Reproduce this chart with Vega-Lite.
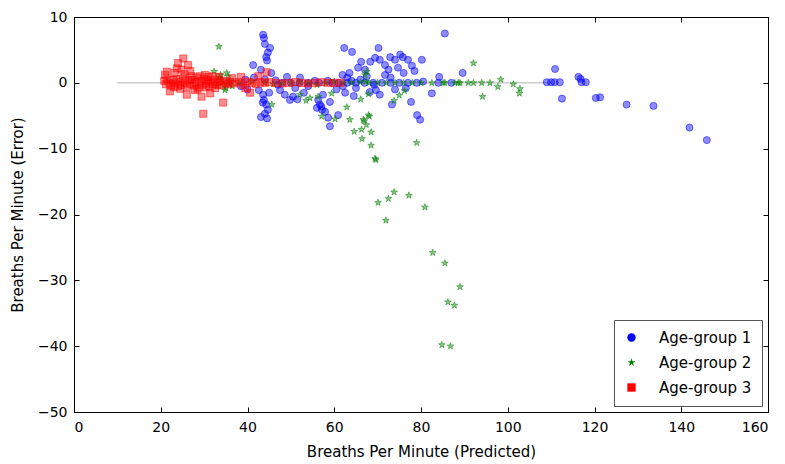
{
"$schema":"https://vega.github.io/schema/vega-lite/v6.json",
"width":694,"height":395,
"autosize":{"type":"none"},
"padding":{"left":74,"top":17,"right":17,"bottom":52},
"config":{
 "view":{"stroke":"black","strokeWidth":1},
 "font":"DejaVu Sans",
 "axis":{"grid":false,"domainColor":"black","tickColor":"black","labelColor":"black","titleColor":"black","labelFont":"DejaVu Sans","titleFont":"DejaVu Sans","labelFontSize":14,"titleFontSize":15,"titleFontWeight":"normal","tickSize":-5},
 "legend":{"labelFont":"DejaVu Sans","labelFontSize":15,"labelColor":"black"}
},
"layer":[
 {"data":{"values":[{"x":10,"x2":110,"y":0}]},
  "mark":{"type":"rule","color":"#cccccc","strokeWidth":1.5},
  "encoding":{
   "x":{"field":"x","type":"quantitative","scale":{"domain":[0,160]},"axis":{"title":null,"labels":false,"domain":false,"values":[0,20,40,60,80,100,120,140,160],"orient":"top"}},
   "x2":{"field":"x2"},
   "y":{"field":"y","type":"quantitative","scale":{"domain":[-50,10]},"axis":{"title":null,"labels":false,"domain":false,"values":[-50,-40,-30,-20,-10,0,10],"orient":"right"}}
  }},
 {"data":{"values":[
{"group":"Age-group 1","pred":43.6,"err":7.3},{"group":"Age-group 1","pred":43.8,"err":6.8},{"group":"Age-group 1","pred":44.0,"err":5.9},{"group":"Age-group 1","pred":45.2,"err":5.3},{"group":"Age-group 1","pred":44.7,"err":4.6},{"group":"Age-group 1","pred":44.3,"err":3.9},{"group":"Age-group 1","pred":44.5,"err":3.4},{"group":"Age-group 1","pred":41.3,"err":2.7},{"group":"Age-group 1","pred":43.1,"err":2.0},{"group":"Age-group 1","pred":45.5,"err":1.5},{"group":"Age-group 1","pred":44.0,"err":0.5},{"group":"Age-group 1","pred":42.6,"err":-1.1},{"group":"Age-group 1","pred":43.6,"err":-1.8},{"group":"Age-group 1","pred":43.8,"err":-2.6},{"group":"Age-group 1","pred":44.3,"err":-3.3},{"group":"Age-group 1","pred":44.7,"err":-4.1},{"group":"Age-group 1","pred":43.1,"err":-5.2},{"group":"Age-group 1","pred":44.5,"err":-5.4},{"group":"Age-group 1","pred":44.0,"err":-4.7},{"group":"Age-group 1","pred":43.5,"err":-3.0},{"group":"Age-group 1","pred":45.0,"err":-1.5},
{"group":"Age-group 1","pred":38.5,"err":-0.5},{"group":"Age-group 1","pred":40.0,"err":-1.0},{"group":"Age-group 1","pred":41.5,"err":0.8},{"group":"Age-group 1","pred":39.5,"err":0.5},
{"group":"Age-group 1","pred":47.5,"err":-1.1},{"group":"Age-group 1","pred":48.6,"err":-1.8},{"group":"Age-group 1","pred":49.8,"err":-2.6},{"group":"Age-group 1","pred":50.5,"err":-2.1},{"group":"Age-group 1","pred":49.1,"err":0.9},{"group":"Age-group 1","pred":52.1,"err":0.8},{"group":"Age-group 1","pred":51.5,"err":-2.5},{"group":"Age-group 1","pred":53.0,"err":-1.5},{"group":"Age-group 1","pred":54.0,"err":-0.5},{"group":"Age-group 1","pred":55.5,"err":0.3},{"group":"Age-group 1","pred":46.5,"err":0.4},{"group":"Age-group 1","pred":48.0,"err":0.0},{"group":"Age-group 1","pred":50.0,"err":0.0},{"group":"Age-group 1","pred":52.0,"err":0.0},{"group":"Age-group 1","pred":54.0,"err":0.0},{"group":"Age-group 1","pred":47.0,"err":-0.3},{"group":"Age-group 1","pred":51.0,"err":-0.8},
{"group":"Age-group 1","pred":56.7,"err":-3.3},{"group":"Age-group 1","pred":57.2,"err":-4.1},{"group":"Age-group 1","pred":57.9,"err":-4.4},{"group":"Age-group 1","pred":58.6,"err":-5.3},{"group":"Age-group 1","pred":59.0,"err":-6.6},{"group":"Age-group 1","pred":56.3,"err":-2.6},{"group":"Age-group 1","pred":59.0,"err":-2.9},{"group":"Age-group 1","pred":57.4,"err":-1.8},{"group":"Age-group 1","pred":56.0,"err":-3.8},{"group":"Age-group 1","pred":57.0,"err":-3.6},{"group":"Age-group 1","pred":58.5,"err":0.3},{"group":"Age-group 1","pred":56.5,"err":0.0},{"group":"Age-group 1","pred":59.5,"err":0.0},
{"group":"Age-group 1","pred":62.3,"err":5.3},{"group":"Age-group 1","pred":64.1,"err":4.7},{"group":"Age-group 1","pred":61.9,"err":1.2},{"group":"Age-group 1","pred":65.5,"err":2.3},{"group":"Age-group 1","pred":66.2,"err":3.2},{"group":"Age-group 1","pred":67.1,"err":2.0},{"group":"Age-group 1","pred":60.9,"err":-4.9},{"group":"Age-group 1","pred":60.5,"err":-1.0},{"group":"Age-group 1","pred":62.0,"err":-0.5},{"group":"Age-group 1","pred":63.0,"err":0.8},{"group":"Age-group 1","pred":64.0,"err":0.3},{"group":"Age-group 1","pred":65.0,"err":-0.8},{"group":"Age-group 1","pred":66.0,"err":0.5},{"group":"Age-group 1","pred":67.5,"err":1.0},{"group":"Age-group 1","pred":68.3,"err":3.2},{"group":"Age-group 1","pred":69.2,"err":-0.3},{"group":"Age-group 1","pred":69.6,"err":-1.1},{"group":"Age-group 1","pred":68.2,"err":-1.4},{"group":"Age-group 1","pred":63.5,"err":1.5},{"group":"Age-group 1","pred":61.0,"err":0.0},{"group":"Age-group 1","pred":63.0,"err":0.0},{"group":"Age-group 1","pred":65.0,"err":0.0},{"group":"Age-group 1","pred":67.0,"err":0.0},{"group":"Age-group 1","pred":69.0,"err":0.0},{"group":"Age-group 1","pred":62.5,"err":-1.5},{"group":"Age-group 1","pred":64.5,"err":-2.0},
{"group":"Age-group 1","pred":70.2,"err":5.3},{"group":"Age-group 1","pred":69.4,"err":3.8},{"group":"Age-group 1","pred":70.5,"err":3.5},{"group":"Age-group 1","pred":71.7,"err":2.7},{"group":"Age-group 1","pred":72.9,"err":3.9},{"group":"Age-group 1","pred":74.0,"err":3.5},{"group":"Age-group 1","pred":75.2,"err":4.3},{"group":"Age-group 1","pred":75.8,"err":3.9},{"group":"Age-group 1","pred":77.0,"err":3.5},{"group":"Age-group 1","pred":77.9,"err":2.6},{"group":"Age-group 1","pred":74.7,"err":2.3},{"group":"Age-group 1","pred":71.7,"err":1.2},{"group":"Age-group 1","pred":70.5,"err":-1.8},{"group":"Age-group 1","pred":73.3,"err":-3.3},{"group":"Age-group 1","pred":77.7,"err":-2.9},{"group":"Age-group 1","pred":79.1,"err":-4.9},{"group":"Age-group 1","pred":79.8,"err":-5.6},{"group":"Age-group 1","pred":80.2,"err":3.5},{"group":"Age-group 1","pred":80.5,"err":0.2},{"group":"Age-group 1","pred":72.5,"err":2.0},{"group":"Age-group 1","pred":76.0,"err":1.5},{"group":"Age-group 1","pred":78.5,"err":1.8},{"group":"Age-group 1","pred":73.0,"err":0.8},{"group":"Age-group 1","pred":71.0,"err":0.0},{"group":"Age-group 1","pred":73.0,"err":0.0},{"group":"Age-group 1","pred":75.0,"err":0.0},{"group":"Age-group 1","pred":77.0,"err":0.0},{"group":"Age-group 1","pred":79.0,"err":0.0},{"group":"Age-group 1","pred":76.5,"err":-0.8},{"group":"Age-group 1","pred":74.0,"err":-1.0},
{"group":"Age-group 1","pred":84.2,"err":0.9},{"group":"Age-group 1","pred":82.5,"err":-1.6},{"group":"Age-group 1","pred":85.5,"err":7.5},{"group":"Age-group 1","pred":89.6,"err":1.5},{"group":"Age-group 1","pred":84.0,"err":0.0},{"group":"Age-group 1","pred":87.0,"err":0.0},
{"group":"Age-group 1","pred":109.0,"err":0.1},{"group":"Age-group 1","pred":110.0,"err":0.1},{"group":"Age-group 1","pred":110.8,"err":0.1},{"group":"Age-group 1","pred":112.0,"err":0.1},{"group":"Age-group 1","pred":110.9,"err":2.1},{"group":"Age-group 1","pred":112.5,"err":-2.4},{"group":"Age-group 1","pred":116.3,"err":0.9},{"group":"Age-group 1","pred":116.8,"err":0.6},{"group":"Age-group 1","pred":117.0,"err":0.1},{"group":"Age-group 1","pred":118.0,"err":0.1},{"group":"Age-group 1","pred":120.3,"err":-2.3},{"group":"Age-group 1","pred":121.3,"err":-2.2},{"group":"Age-group 1","pred":127.4,"err":-3.3},{"group":"Age-group 1","pred":133.6,"err":-3.5},{"group":"Age-group 1","pred":141.9,"err":-6.8},{"group":"Age-group 1","pred":145.9,"err":-8.7},
{"group":"Age-group 2","pred":33.4,"err":5.5},{"group":"Age-group 2","pred":32.3,"err":1.7},{"group":"Age-group 2","pred":33.5,"err":0.8},{"group":"Age-group 2","pred":34.0,"err":0.5},{"group":"Age-group 2","pred":34.5,"err":-0.3},{"group":"Age-group 2","pred":35.0,"err":-0.8},{"group":"Age-group 2","pred":35.5,"err":1.0},{"group":"Age-group 2","pred":36.0,"err":0.3},{"group":"Age-group 2","pred":33.0,"err":-0.5},{"group":"Age-group 2","pred":34.8,"err":-1.1},{"group":"Age-group 2","pred":36.5,"err":-0.5},{"group":"Age-group 2","pred":35.2,"err":1.5},{"group":"Age-group 2","pred":33.8,"err":1.2},{"group":"Age-group 2","pred":35.8,"err":-0.2},
{"group":"Age-group 2","pred":38,"err":0},{"group":"Age-group 2","pred":41,"err":0.2},{"group":"Age-group 2","pred":44,"err":0},{"group":"Age-group 2","pred":46,"err":-0.2},{"group":"Age-group 2","pred":48,"err":0},{"group":"Age-group 2","pred":50,"err":0},{"group":"Age-group 2","pred":52,"err":0.1},{"group":"Age-group 2","pred":54,"err":0},{"group":"Age-group 2","pred":56,"err":-0.3},{"group":"Age-group 2","pred":58,"err":0},{"group":"Age-group 2","pred":60,"err":0.2},
{"group":"Age-group 2","pred":45.6,"err":-3.3},{"group":"Age-group 2","pred":54.4,"err":-2.3},{"group":"Age-group 2","pred":56.3,"err":-2.1},{"group":"Age-group 2","pred":59.4,"err":-1.6},{"group":"Age-group 2","pred":52.1,"err":-1.8},{"group":"Age-group 2","pred":57.1,"err":-5.1},{"group":"Age-group 2","pred":60.2,"err":-5.5},{"group":"Age-group 2","pred":53.5,"err":-2.7},
{"group":"Age-group 2","pred":62.9,"err":-3.7},{"group":"Age-group 2","pred":63.6,"err":-5.6},{"group":"Age-group 2","pred":66.1,"err":-2.5},{"group":"Age-group 2","pred":67.9,"err":-1.7},{"group":"Age-group 2","pred":66.7,"err":-5.6},{"group":"Age-group 2","pred":68.1,"err":-5.1},{"group":"Age-group 2","pred":67.5,"err":1.7},{"group":"Age-group 2","pred":67.1,"err":1.2},{"group":"Age-group 2","pred":67.3,"err":0.2},
{"group":"Age-group 2","pred":64.6,"err":-7.4},{"group":"Age-group 2","pred":66.3,"err":-7.1},{"group":"Age-group 2","pred":66.4,"err":-8.5},{"group":"Age-group 2","pred":66.9,"err":-5.8},{"group":"Age-group 2","pred":67.4,"err":-6.4},{"group":"Age-group 2","pred":67.9,"err":-4.9},{"group":"Age-group 2","pred":68.5,"err":-7.5},{"group":"Age-group 2","pred":68.5,"err":-9.5},{"group":"Age-group 2","pred":69.4,"err":-11.5},{"group":"Age-group 2","pred":69.6,"err":-11.7},{"group":"Age-group 2","pred":79.0,"err":-9.1},{"group":"Age-group 2","pred":73.8,"err":-2.7},{"group":"Age-group 2","pred":75.0,"err":-1.9},{"group":"Age-group 2","pred":76.2,"err":-1.2},
{"group":"Age-group 2","pred":62,"err":0},{"group":"Age-group 2","pred":64,"err":0},{"group":"Age-group 2","pred":66,"err":0.1},{"group":"Age-group 2","pred":68,"err":0},{"group":"Age-group 2","pred":70,"err":0},{"group":"Age-group 2","pred":72,"err":0},{"group":"Age-group 2","pred":74,"err":0},{"group":"Age-group 2","pred":76,"err":0},{"group":"Age-group 2","pred":78,"err":0},{"group":"Age-group 2","pred":80,"err":0},
{"group":"Age-group 2","pred":82.5,"err":0},{"group":"Age-group 2","pred":85.1,"err":0},{"group":"Age-group 2","pred":85.5,"err":0},{"group":"Age-group 2","pred":87.8,"err":0},{"group":"Age-group 2","pred":88.6,"err":0},{"group":"Age-group 2","pred":89.0,"err":0},{"group":"Age-group 2","pred":90.9,"err":0},{"group":"Age-group 2","pred":92.1,"err":0},{"group":"Age-group 2","pred":94.0,"err":0},{"group":"Age-group 2","pred":95.9,"err":0},
{"group":"Age-group 2","pred":92.1,"err":3.0},{"group":"Age-group 2","pred":94.2,"err":-2.1},{"group":"Age-group 2","pred":97.7,"err":-0.6},{"group":"Age-group 2","pred":98.4,"err":0.5},{"group":"Age-group 2","pred":101.3,"err":-0.2},{"group":"Age-group 2","pred":102.8,"err":-0.9},{"group":"Age-group 2","pred":102.7,"err":-1.6},
{"group":"Age-group 2","pred":73.8,"err":-16.6},{"group":"Age-group 2","pred":72.5,"err":-17.6},{"group":"Age-group 2","pred":70.1,"err":-18.2},{"group":"Age-group 2","pred":77.2,"err":-17.1},{"group":"Age-group 2","pred":80.9,"err":-18.9},{"group":"Age-group 2","pred":71.9,"err":-20.9},{"group":"Age-group 2","pred":82.7,"err":-25.8},{"group":"Age-group 2","pred":85.5,"err":-27.4},{"group":"Age-group 2","pred":89.0,"err":-31.0},{"group":"Age-group 2","pred":86.2,"err":-33.3},{"group":"Age-group 2","pred":87.7,"err":-33.8},{"group":"Age-group 2","pred":84.8,"err":-39.8},{"group":"Age-group 2","pred":86.8,"err":-40.0},
{"group":"Age-group 3","pred":20.8,"err":0.3},{"group":"Age-group 3","pred":21.2,"err":-0.2},{"group":"Age-group 3","pred":21.5,"err":0.5},{"group":"Age-group 3","pred":22.0,"err":0.0},{"group":"Age-group 3","pred":22.3,"err":-0.4},{"group":"Age-group 3","pred":22.8,"err":0.4},{"group":"Age-group 3","pred":23.2,"err":-0.1},{"group":"Age-group 3","pred":23.6,"err":0.6},{"group":"Age-group 3","pred":24.0,"err":-0.5},{"group":"Age-group 3","pred":24.4,"err":0.2},{"group":"Age-group 3","pred":24.8,"err":-0.3},{"group":"Age-group 3","pred":25.2,"err":0.7},{"group":"Age-group 3","pred":25.6,"err":0.0},{"group":"Age-group 3","pred":26.0,"err":-0.6},{"group":"Age-group 3","pred":26.4,"err":0.4},{"group":"Age-group 3","pred":26.8,"err":-0.2},{"group":"Age-group 3","pred":27.2,"err":0.5},{"group":"Age-group 3","pred":27.6,"err":-0.4},{"group":"Age-group 3","pred":28.0,"err":0.1},{"group":"Age-group 3","pred":28.4,"err":0.8},{"group":"Age-group 3","pred":28.8,"err":-0.7},{"group":"Age-group 3","pred":29.2,"err":0.3},{"group":"Age-group 3","pred":29.6,"err":-0.3},{"group":"Age-group 3","pred":30.0,"err":0.6},{"group":"Age-group 3","pred":30.4,"err":-0.1},{"group":"Age-group 3","pred":30.8,"err":0.4},{"group":"Age-group 3","pred":31.2,"err":-0.5},{"group":"Age-group 3","pred":31.6,"err":0.2},{"group":"Age-group 3","pred":32.0,"err":-0.2},{"group":"Age-group 3","pred":32.5,"err":0.5},{"group":"Age-group 3","pred":33.0,"err":-0.3},{"group":"Age-group 3","pred":33.5,"err":0.2},{"group":"Age-group 3","pred":34.0,"err":-0.4},{"group":"Age-group 3","pred":34.5,"err":0.3},{"group":"Age-group 3","pred":35.0,"err":0.0},{"group":"Age-group 3","pred":35.5,"err":-0.2},{"group":"Age-group 3","pred":36.0,"err":0.2},{"group":"Age-group 3","pred":37.0,"err":-0.1},{"group":"Age-group 3","pred":38.0,"err":0.1},{"group":"Age-group 3","pred":39.0,"err":-0.3},{"group":"Age-group 3","pred":40.0,"err":0.2},{"group":"Age-group 3","pred":41.0,"err":0.0},{"group":"Age-group 3","pred":42.0,"err":-0.2},{"group":"Age-group 3","pred":43.0,"err":0.1},{"group":"Age-group 3","pred":44.0,"err":0.0},{"group":"Age-group 3","pred":45.0,"err":0.1},{"group":"Age-group 3","pred":46.5,"err":0.0},{"group":"Age-group 3","pred":48.0,"err":-0.1},{"group":"Age-group 3","pred":49.5,"err":0.0},{"group":"Age-group 3","pred":51.0,"err":0.1},{"group":"Age-group 3","pred":52.5,"err":0.0},{"group":"Age-group 3","pred":54.0,"err":-0.1},{"group":"Age-group 3","pred":55.5,"err":0.0},{"group":"Age-group 3","pred":57.0,"err":0.1},{"group":"Age-group 3","pred":58.5,"err":0.0},{"group":"Age-group 3","pred":60.0,"err":0.0},{"group":"Age-group 3","pred":61.5,"err":0.0},
{"group":"Age-group 3","pred":25.2,"err":3.7},{"group":"Age-group 3","pred":26.3,"err":2.7},{"group":"Age-group 3","pred":24.0,"err":3.0},{"group":"Age-group 3","pred":23.7,"err":2.2},{"group":"Age-group 3","pred":24.8,"err":2.0},{"group":"Age-group 3","pred":23.2,"err":1.5},{"group":"Age-group 3","pred":26.8,"err":1.8},{"group":"Age-group 3","pred":25.5,"err":1.3},{"group":"Age-group 3","pred":21.0,"err":1.2},{"group":"Age-group 3","pred":21.4,"err":1.7},{"group":"Age-group 3","pred":22.1,"err":-1.3},{"group":"Age-group 3","pred":26.0,"err":-1.8},{"group":"Age-group 3","pred":29.4,"err":-2.1},{"group":"Age-group 3","pred":31.4,"err":-1.6},{"group":"Age-group 3","pred":34.4,"err":-3.0},{"group":"Age-group 3","pred":29.8,"err":-4.7},{"group":"Age-group 3","pred":27.1,"err":1.0},{"group":"Age-group 3","pred":30.2,"err":1.2},{"group":"Age-group 3","pred":32.0,"err":1.0},{"group":"Age-group 3","pred":27.9,"err":-1.1},{"group":"Age-group 3","pred":32.5,"err":-0.8},{"group":"Age-group 3","pred":28.5,"err":-0.9},{"group":"Age-group 3","pred":30.5,"err":-0.7},{"group":"Age-group 3","pred":33.5,"err":0.9},{"group":"Age-group 3","pred":36.5,"err":0.7},{"group":"Age-group 3","pred":38.5,"err":0.9},{"group":"Age-group 3","pred":40.6,"err":-1.5},{"group":"Age-group 3","pred":44.4,"err":1.6},{"group":"Age-group 3","pred":42.5,"err":1.0},{"group":"Age-group 3","pred":39.5,"err":-0.8},{"group":"Age-group 3","pred":24.5,"err":-0.9},{"group":"Age-group 3","pred":23.0,"err":-0.7},{"group":"Age-group 3","pred":29.0,"err":1.0},{"group":"Age-group 3","pred":31.0,"err":0.9}
 ]},
  "mark":{"type":"point","filled":true,"fillOpacity":0.45,"strokeOpacity":0.5,"strokeWidth":1,"size":50},
  "encoding":{
   "x":{"field":"pred","type":"quantitative","scale":{"domain":[0,160]},"axis":{"title":"Breaths Per Minute (Predicted)","values":[0,20,40,60,80,100,120,140,160],"orient":"bottom","labelPadding":13,"titlePadding":10}},
   "y":{"field":"err","type":"quantitative","scale":{"domain":[-50,10]},"axis":{"title":"Breaths Per Minute (Error)","values":[-50,-40,-30,-20,-10,0,10],"labelExpr":"replace(datum.label, '-', '−')","orient":"left","labelPadding":12,"titlePadding":12}},
   "color":{"field":"group","type":"nominal","scale":{"domain":["Age-group 1","Age-group 2","Age-group 3"],"range":["#0000ff","#008000","#ff0000"]},"legend":{"title":null,"orient":"bottom-right","offset":6,"padding":10,"strokeColor":"#555555","fillColor":"white","symbolSize":70,"labelOffset":20,"rowPadding":9,"symbolStrokeWidth":0,"encode":{"symbols":{"update":{"opacity":{"value":1},"fillOpacity":{"value":1}}}}}},
   "stroke":{"field":"group","type":"nominal","scale":{"domain":["Age-group 1","Age-group 2","Age-group 3"],"range":["#0000ff","#008000","#ff0000"]},"legend":null},
   "shape":{"field":"group","type":"nominal","scale":{"domain":["Age-group 1","Age-group 2","Age-group 3"],"range":["circle","M0,-1L0.225,-0.309L0.951,-0.309L0.363,0.118L0.588,0.809L0,0.382L-0.588,0.809L-0.363,0.118L-0.951,-0.309L-0.225,-0.309Z","square"]},"legend":{"title":null}}
  }}
],
"resolve":{"axis":{"x":"independent","y":"independent"}}
}
